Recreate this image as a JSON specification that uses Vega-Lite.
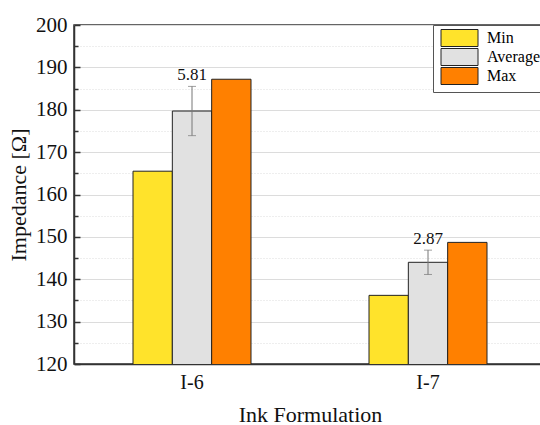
{
  "$schema": "https://vega.github.io/schema/vega-lite/v6.json",
  "width": 472,
  "height": 339,
  "autosize": "none",
  "padding": {"left": 74, "top": 25, "right": 0, "bottom": 61},
  "background": "white",
  "config": {
    "font": "Liberation Serif",
    "view": {"stroke": "#333", "strokeWidth": 1.5},
    "axis": {"labelFont": "Liberation Serif", "titleFont": "Liberation Serif", "labelColor": "#111", "titleColor": "#111", "titleFontWeight": "normal"},
    "legend": {"labelFont": "Liberation Serif"},
    "text": {"font": "Liberation Serif"}
  },
  "resolve": {"axis": {"y": "independent"}},
  "data": {
    "values": [
      {"formulation": "I-6", "stat": "Min", "value": 165.5, "sd": null},
      {"formulation": "I-6", "stat": "Average", "value": 179.7, "sd": 5.81},
      {"formulation": "I-6", "stat": "Max", "value": 187.2, "sd": null},
      {"formulation": "I-7", "stat": "Min", "value": 136.2, "sd": null},
      {"formulation": "I-7", "stat": "Average", "value": 144.0, "sd": 2.87},
      {"formulation": "I-7", "stat": "Max", "value": 148.7, "sd": null}
    ]
  },
  "encoding": {
    "x": {
      "field": "formulation", "type": "nominal",
      "scale": {"paddingInner": 0.5, "paddingOuter": 0.25},
      "axis": {"title": "Ink Formulation", "labelAngle": 0, "labelFontSize": 20, "titleFontSize": 22, "ticks": false, "labelPadding": 8, "titlePadding": 12, "domainColor": "#333", "domainWidth": 1.5, "grid": false}
    },
    "xOffset": {"field": "stat", "type": "nominal", "sort": ["Min", "Average", "Max"], "scale": {"paddingInner": 0, "paddingOuter": 0}}
  },
  "layer": [
    {
      "mark": {"type": "bar", "stroke": "#222", "strokeWidth": 1, "clip": true},
      "encoding": {
        "y": {
          "field": "value", "type": "quantitative", "title": "Impedance [Ω]",
          "scale": {"domain": [120, 200], "nice": false, "zero": false},
          "axis": {
            "title": "Impedance [Ω]", "titleFontSize": 22, "labelFontSize": 21, "titlePadding": 5,
            "values": [120, 125, 130, 135, 140, 145, 150, 155, 160, 165, 170, 175, 180, 185, 190, 195, 200],
            "labelExpr": "datum.value % 10 === 0 ? datum.label : ''",
            "domainColor": "#333", "domainWidth": 1.5,
            "ticks": false,
            "labelPadding": 7,
            "gridColor": "#dcdcdc",
            "gridDash": {"condition": {"test": "datum.value % 10 === 0", "value": []}, "value": [1, 2]}
          }
        },
        "color": {
          "field": "stat", "type": "nominal", "sort": ["Min", "Average", "Max"],
          "scale": {"domain": ["Min", "Average", "Max"], "range": ["#FFE32B", "#E1E1E1", "#FF8000"]},
          "legend": {
            "title": null, "orient": "none", "legendX": 359, "legendY": 0,
            "symbolType": "M-1,-1.7H6.4V1.7H-1Z", "symbolSize": 100,
            "symbolStrokeColor": "#222", "symbolStrokeWidth": 1, "symbolOpacity": 1,
            "labelFontSize": 16, "labelOffset": 33, "rowPadding": -4,
            "strokeColor": "#555", "fillColor": "white", "padding": 5, "cornerRadius": 0
          }
        }
      }
    },
    {
      "transform": [{"filter": "datum.sd != null"}],
      "mark": {"type": "errorbar", "ticks": {"size": 8, "color": "#777"}, "rule": {"color": "#777"}},
      "encoding": {
        "y": {
          "field": "value", "type": "quantitative", "title": null,
          "axis": {
            "orient": "right", "offset": -472, "title": null, "labels": false, "domain": false, "grid": false,
            "values": [120, 125, 130, 135, 140, 145, 150, 155, 160, 165, 170, 175, 180, 185, 190, 195, 200],
            "tickColor": "#333", "tickWidth": 1.5,
            "tickSize": {"condition": {"test": "datum.value % 10 === 0", "value": 6}, "value": 4}
          }
        },
        "yError": {"field": "sd"}
      }
    },
    {
      "transform": [{"filter": "datum.sd != null"}, {"calculate": "datum.value + datum.sd", "as": "hi"}],
      "mark": {"type": "text", "baseline": "bottom", "dy": -2, "fontSize": 17, "color": "#111"},
      "encoding": {
        "y": {"field": "hi", "type": "quantitative", "axis": null},
        "text": {"field": "sd", "type": "quantitative", "format": ".2f"}
      }
    }
  ]
}
